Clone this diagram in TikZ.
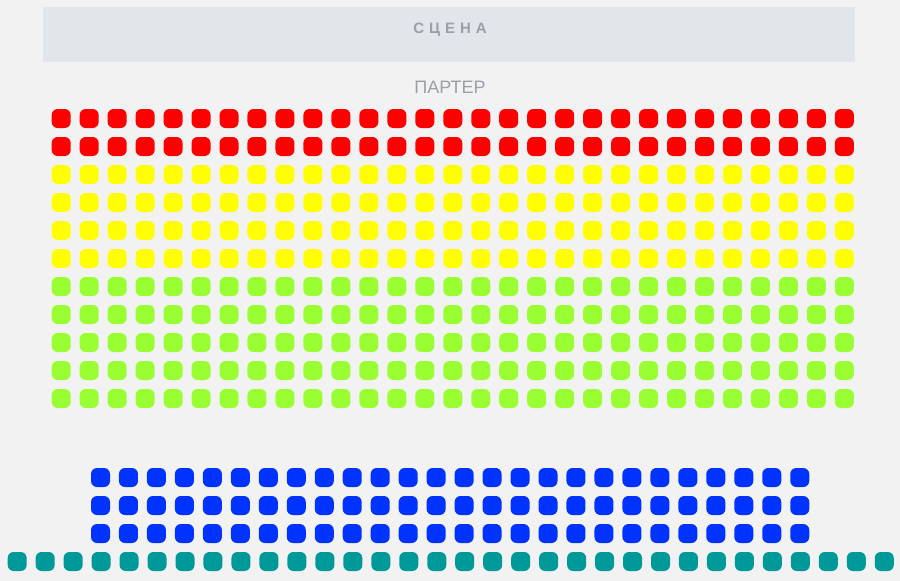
\documentclass[tikz,border=0pt]{standalone}
\usepackage{fontspec}
\setmainfont{Liberation Sans}
\definecolor{hallbg}{HTML}{F2F2F2}
\definecolor{stagebg}{HTML}{E2E5EA}
\definecolor{labelgray}{HTML}{9AA0A8}
\definecolor{seatred}{HTML}{FF0000}
\definecolor{seatyellow}{HTML}{FFFF00}
\definecolor{seatgreen}{HTML}{99FF33}
\definecolor{seatblue}{HTML}{0033FF}
\definecolor{seatteal}{HTML}{009999}
\begin{document}
\begin{tikzpicture}[
        x=1pt, y=-1pt,
        seat/.style={rectangle, rounded corners=6pt, minimum size=19pt, inner sep=0pt},
        stage/.style={rectangle, fill=stagebg, minimum width=812pt, minimum height=55pt, inner sep=0pt},
        hall label/.style={text=labelgray, inner sep=0pt},
    ]
	\fill[hallbg] (0,0) rectangle (900,581);
	\useasboundingbox (0,0) rectangle (900,581);
	\node[stage] (stage) at (449,34.5) {};
	\node[hall label, font=\bfseries\fontsize{15}{15}\selectfont] (stage_) at (450,29.5)
	    {С\hspace{5pt}Ц\hspace{5pt}Е\hspace{5pt}Н\hspace{5pt}А};
	\node[hall label, font=\fontsize{18}{18}\selectfont] (parter_) at (450,87) {ПАРТЕР};
	% parter rows
	\foreach \r/\col in {1/seatred, 2/seatred, 3/seatyellow, 4/seatyellow, 5/seatyellow, 6/seatyellow,
	        7/seatgreen, 8/seatgreen, 9/seatgreen, 10/seatgreen, 11/seatgreen} {
	    \foreach \c in {0,...,28}
	        \node[seat, fill=\col] (p_\r_\c) at ({61.2+27.97*\c},{118.5+28*(\r-1)}) {};
	}
	% blue rows
	\foreach \r in {1,2,3} {
	    \foreach \c in {0,...,25}
	        \node[seat, fill=seatblue] (b_\r_\c) at ({100.5+27.97*\c},{477.5+28*(\r-1)}) {};
	}
	% last row
	\foreach \c in {0,...,31}
	    \node[seat, fill=seatteal] (t_\c) at ({17.2+27.97*\c},561.5) {};
    \end{tikzpicture}
\end{document}
